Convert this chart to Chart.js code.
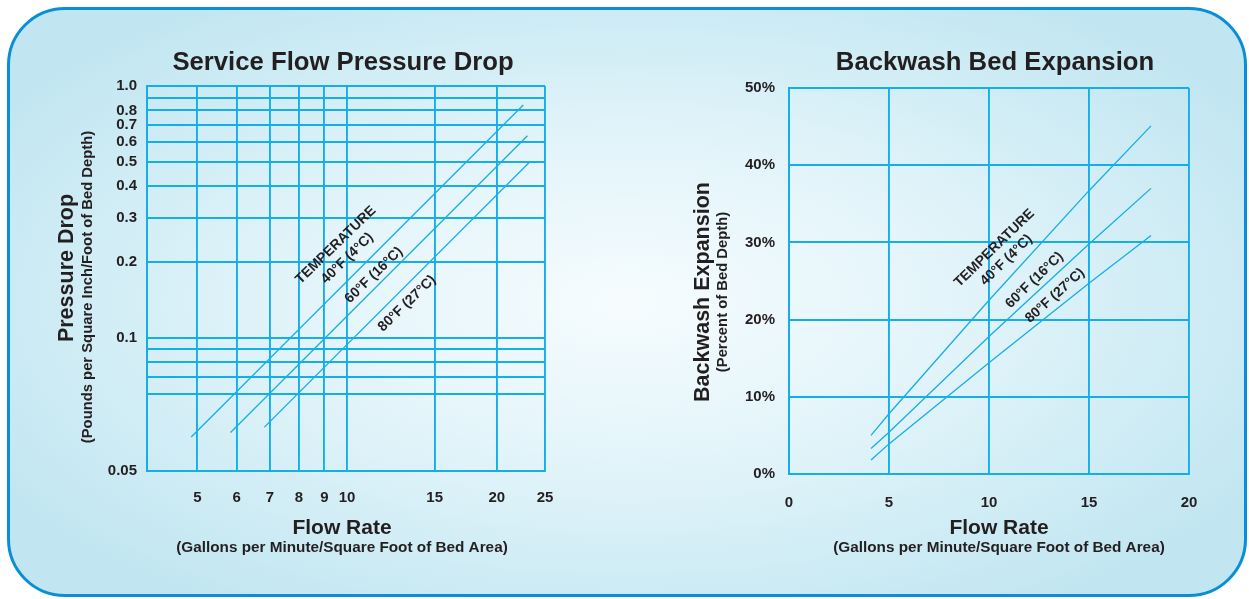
<!DOCTYPE html>
<html>
<head>
<meta charset="utf-8">
<script src="https://cdn.jsdelivr.net/npm/chart.js@4.4.1/dist/chart.umd.min.js"></script>
<style>
  body { margin: 0; width: 1249px; height: 599px; background: #fff; position: relative; overflow: hidden; }
  #panel {
    position: absolute; left: 7px; top: 7px; width: 1240px; height: 590px;
    box-sizing: border-box; border: 3px solid #0a8fd6; border-radius: 58px;
    background: radial-gradient(ellipse 60% 62% at 50% 50%, #f6fcfe 0%, #e2f4fa 45%, #c1e6f1 100%);
  }
  canvas { position: absolute; top: 0; }
  #pressure { left: 0; }
  #backwash { left: 620px; }
</style>
</head>
<body>
<div id="panel"></div>
<canvas id="pressure" width="620" height="599"></canvas>
<canvas id="backwash" width="629" height="599"></canvas>
<script>
// service flow pressure drop (log-log), end points of each temperature line
const flow40 = [4.86, 22.61]
const drop40 = [0.0404, 0.840]
const flow60 = [5.83, 23.05]
const drop60 = [0.0421, 0.635]
const flow80 = [6.82, 23.21]
const drop80 = [0.0442, 0.496]

const dropTicks = [0.0296, 0.06, 0.07, 0.08, 0.09, 0.1, 0.2, 0.3, 0.4, 0.5, 0.6, 0.7, 0.8, 0.9, 1.0]
const dropTickLabels = ['0.05', '', '', '', '', '0.1', '0.2', '0.3', '0.4', '0.5', '0.6', '0.7', '0.8', '', '1.0']
const flowTicks = [3.96, 5, 6, 7, 8, 9, 10, 15, 20, 25]
const flowTickLabels = ['', '5', '6', '7', '8', '9', '10', '15', '20', '25']

// backwash bed expansion
const washFlow = [4.1, 5, 10, 15, 18.1]
const expand40 = [5.0, 7.8, 22.5, 36.7, 45.1]
const expand60 = [3.3, 5.4, 17.8, 29.8, 37.0]
const expand80 = [1.8, 3.9, 14.4, 24.7, 30.9]

const tempLabels = ['TEMPERATURE', '40°F (4°C)', '60°F (16°C)', '80°F (27°C)']

const FONT = '"Liberation Sans", Arial, sans-serif'
const INK = '#231f20'
const BLUE = '#14aeea'

const toPoints = (xs, ys) => xs.map((x, i) => ({x: x, y: ys[i]}))

const lineSet = (data) => ({
  data: data,
  borderColor: BLUE,
  borderWidth: 1.3,
  pointRadius: 0,
  tension: 0,
  fill: false
})

// draws titles, axis titles and the rotated temperature notes
const textPlugin = {
  id: 'chartText',
  afterDraw(chart, args, o) {
    const ctx = chart.ctx
    const sx = chart.scales.x
    const sy = chart.scales.y
    ctx.save()
    ctx.fillStyle = INK
    ctx.textAlign = 'center'
    ctx.textBaseline = 'middle'
    ctx.font = 'bold 25.7px ' + FONT
    ctx.fillText(o.title, o.titlePos[0], o.titlePos[1])
    ctx.font = 'bold 21px ' + FONT
    ctx.fillText('Flow Rate', o.xTitlePos[0], o.xTitlePos[1])
    ctx.font = 'bold 15.3px ' + FONT
    ctx.fillText('(Gallons per Minute/Square Foot of Bed Area)', o.xSubPos[0], o.xSubPos[1])

    ctx.save()
    ctx.translate(o.yTitlePos[0], o.yTitlePos[1])
    ctx.rotate(-Math.PI / 2)
    ctx.font = 'bold 21.5px ' + FONT
    ctx.fillText(o.yTitle, 0, 0)
    ctx.restore()
    ctx.save()
    ctx.translate(o.ySubPos[0], o.ySubPos[1])
    ctx.rotate(-Math.PI / 2)
    ctx.font = 'bold 14.8px ' + FONT
    ctx.fillText(o.ySub, 0, 0)
    ctx.restore()

    ctx.font = 'bold 14px ' + FONT
    o.notes.forEach((n, i) => {
      ctx.save()
      ctx.translate(sx.getPixelForValue(n[0]), sy.getPixelForValue(n[1]))
      ctx.rotate(n[2] * Math.PI / 180)
      ctx.fillText(tempLabels[i], 0, 0)
      ctx.restore()
    })
    ctx.restore()
  }
}

const tickFont = {family: FONT, size: 15, weight: 'bold'}

new Chart(document.getElementById('pressure'), {
  type: 'line',
  data: {
    datasets: [
      lineSet(toPoints(flow40, drop40)),
      lineSet(toPoints(flow60, drop60)),
      lineSet(toPoints(flow80, drop80))
    ]
  },
  plugins: [textPlugin],
  options: {
    responsive: false,
    animation: false,
    layout: {padding: {left: 0, top: 86, right: 75, bottom: 0}},
    plugins: {
      legend: {display: false},
      tooltip: {enabled: false},
      chartText: {
        title: 'Service Flow Pressure Drop',
        titlePos: [343, 63],
        xTitlePos: [342, 528],
        xSubPos: [342, 548],
        yTitle: 'Pressure Drop',
        yTitlePos: [67, 268],
        ySub: '(Pounds per Square Inch/Foot of Bed Depth)',
        ySubPos: [88, 287],
        notes: [[9.49, 0.2335, -44], [10.01, 0.2068, -44], [11.32, 0.1774, -44], [13.2, 0.137, -44]]
      }
    },
    scales: {
      x: {
        type: 'logarithmic',
        min: flowTicks[0],
        max: flowTicks[flowTicks.length - 1],
        afterBuildTicks: s => { s.ticks = flowTicks.map(v => ({value: v})) },
        afterFit: s => { s.height = 128 },
        ticks: {
          autoSkip: false, maxRotation: 0, color: INK, font: tickFont, padding: 18,
          callback: (v, i) => flowTickLabels[i]
        },
        grid: {color: BLUE, lineWidth: 1.9, drawTicks: false},
        border: {color: BLUE, width: 2}
      },
      y: {
        type: 'logarithmic',
        min: dropTicks[0],
        max: dropTicks[dropTicks.length - 1],
        afterBuildTicks: s => { s.ticks = dropTicks.map(v => ({value: v})) },
        afterFit: s => { s.width = 147 },
        ticks: {
          autoSkip: false, color: INK, font: tickFont, padding: 10,
          callback: (v, i) => dropTickLabels[i]
        },
        grid: {color: BLUE, lineWidth: 1.9, drawTicks: false},
        border: {color: BLUE, width: 2}
      }
    }
  }
})

new Chart(document.getElementById('backwash'), {
  type: 'line',
  data: {
    datasets: [
      lineSet(toPoints(washFlow, expand40)),
      lineSet(toPoints(washFlow, expand60)),
      lineSet(toPoints(washFlow, expand80))
    ]
  },
  plugins: [textPlugin],
  options: {
    responsive: false,
    animation: false,
    layout: {padding: {left: 0, top: 88, right: 60, bottom: 0}},
    plugins: {
      legend: {display: false},
      tooltip: {enabled: false},
      chartText: {
        title: 'Backwash Bed Expansion',
        titlePos: [375, 63],
        xTitlePos: [379, 528],
        xSubPos: [379, 548],
        yTitle: 'Backwash Expansion',
        yTitlePos: [83, 292],
        ySub: '(Percent of Bed Depth)',
        ySubPos: [103, 292],
        notes: [[10.27, 29.25, -44], [10.87, 27.7, -44], [12.27, 25.1, -44], [13.3, 23.1, -42]]
      }
    },
    scales: {
      x: {
        type: 'linear',
        min: 0,
        max: 20,
        afterFit: s => { s.height = 125 },
        ticks: {stepSize: 5, color: INK, font: tickFont, padding: 20, maxRotation: 0},
        grid: {color: BLUE, lineWidth: 1.9, drawTicks: false},
        border: {color: BLUE, width: 2}
      },
      y: {
        type: 'linear',
        min: 0,
        max: 50,
        afterFit: s => { s.width = 169 },
        ticks: {stepSize: 10, color: INK, font: tickFont, padding: 14, callback: v => v + '%'},
        grid: {color: BLUE, lineWidth: 1.9, drawTicks: false},
        border: {color: BLUE, width: 2}
      }
    }
  }
})
</script>
</body>
</html>
